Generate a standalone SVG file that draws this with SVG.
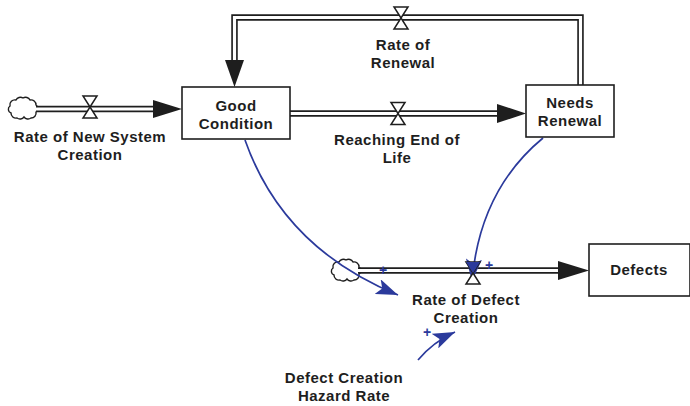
<svg xmlns="http://www.w3.org/2000/svg" width="690" height="406" viewBox="0 0 690 406">
<defs>
<style>
.lbl{font-family:"Liberation Sans",Arial,sans-serif;font-weight:bold;font-size:15px;fill:#1e1e1e;text-anchor:middle;letter-spacing:0.5px}
.stock{fill:#fff;stroke:#1e1e1e;stroke-width:1.6}
.pipeO{fill:none;stroke:#1e1e1e;stroke-width:6.5;stroke-linejoin:miter}
.pipeI{fill:none;stroke:#fff;stroke-width:3.2;stroke-linejoin:miter}
.head{fill:#1e1e1e}
.valve{fill:#fff;stroke:#1e1e1e;stroke-width:1.5;stroke-linejoin:miter}
.cloud{fill:#fff;stroke:#1e1e1e;stroke-width:1.4}
.link{fill:none;stroke:#2b3a9c;stroke-width:1.7}
.plus{font-family:"Liberation Sans",Arial,sans-serif;font-weight:bold;font-size:14px;fill:#2b3a9c;text-anchor:middle}
</style>
<marker id="ah" markerUnits="userSpaceOnUse" markerWidth="24" markerHeight="16" refX="22" refY="8" orient="auto">
<path d="M0,0 L22,8 L0,16 L5,8 z" fill="#2b3a9c"/>
</marker>
<path id="valveShape" d="M-7,-11 L7,-11 L-7,11 L7,11 z"/>
<path id="cloudShape" d="M-12,-4 a5,5 0 0 1 6,-6 a5,5 0 0 1 7,-2 a5,5 0 0 1 7,2 a5,5 0 0 1 6,5 a4,4 0 0 1 0,7 a5,5 0 0 1 -5,6 a5,5 0 0 1 -7,-1 a5,5 0 0 1 -7,1 a5,5 0 0 1 -6,-5 a4,4 0 0 1 -1,-7 z"/>
</defs>
<rect width="690" height="406" fill="#fff"/>

<g id="cloud-source">
<use href="#cloudShape" class="cloud" x="22" y="110"/>
</g>
<g id="cloud-defect-source">
<use href="#cloudShape" class="cloud" x="345" y="272"/>
</g>

<g id="connectors">
<path class="pipeO" d="M36,109 L156,109"/>
<path class="pipeI" d="M36,109 L156,109"/>
<polygon class="head" points="153,100 182,109 153,118"/>

<path class="pipeO" d="M290,113.5 L500,113.5"/>
<path class="pipeI" d="M290,113.5 L500,113.5"/>
<polygon class="head" points="497,104 526,113.5 497,123"/>

<path class="pipeO" d="M580.5,85 L580.5,17.5 L234.5,17.5 L234.5,63"/>
<path class="pipeI" d="M580.5,85 L580.5,17.5 L234.5,17.5 L234.5,63"/>
<polygon class="head" points="225,60 244,60 234.5,87"/>

<path class="pipeO" d="M358,270.5 L561,270.5"/>
<path class="pipeI" d="M358,270.5 L561,270.5"/>
<polygon class="head" points="558,261 589,270.5 558,280"/>

<path class="link" d="M245,140 Q283,248 398,295" marker-end="url(#ah)"/>
<path class="link" d="M543,138 Q480,190 472,281" marker-end="url(#ah)"/>
<path class="link" d="M418,360 Q433,342 455,332" marker-end="url(#ah)"/>
<text class="plus" x="383" y="275">+</text>
<text class="plus" x="489" y="270">+</text>
<text class="plus" x="427" y="337">+</text>
</g>

<g id="good-condition">
<rect class="stock" x="182" y="87" width="108" height="52"/>
<text class="lbl" x="236" y="111">Good</text>
<text class="lbl" x="236" y="129">Condition</text>
</g>

<g id="needs-renewal">
<rect class="stock" x="526" y="85" width="88" height="52"/>
<text class="lbl" x="570" y="108">Needs</text>
<text class="lbl" x="570" y="126">Renewal</text>
</g>

<g id="defects">
<rect class="stock" x="589" y="244" width="101" height="52"/>
<text class="lbl" x="639" y="275">Defects</text>
</g>

<g id="rate-of-new-system-creation">
<use href="#valveShape" class="valve" x="90" y="107"/>
<text class="lbl" x="90" y="142">Rate of New System</text>
<text class="lbl" x="90" y="160">Creation</text>
</g>

<g id="reaching-end-of-life">
<use href="#valveShape" class="valve" x="398" y="113.5"/>
<text class="lbl" x="397" y="145">Reaching End of</text>
<text class="lbl" x="397" y="163">Life</text>
</g>

<g id="rate-of-renewal">
<use href="#valveShape" class="valve" x="401" y="18"/>
<text class="lbl" x="403" y="50">Rate of</text>
<text class="lbl" x="403" y="68">Renewal</text>
</g>

<g id="rate-of-defect-creation">
<use href="#valveShape" class="valve" x="473" y="273"/>
<path d="M466,262 L480,262 L473,273 z" fill="#2b3a9c"/>
<text class="lbl" x="466" y="305">Rate of Defect</text>
<text class="lbl" x="466" y="323">Creation</text>
</g>

<g id="defect-creation-hazard-rate">
<text class="lbl" x="344" y="383">Defect Creation</text>
<text class="lbl" x="344" y="401">Hazard Rate</text>
</g>
</svg>
